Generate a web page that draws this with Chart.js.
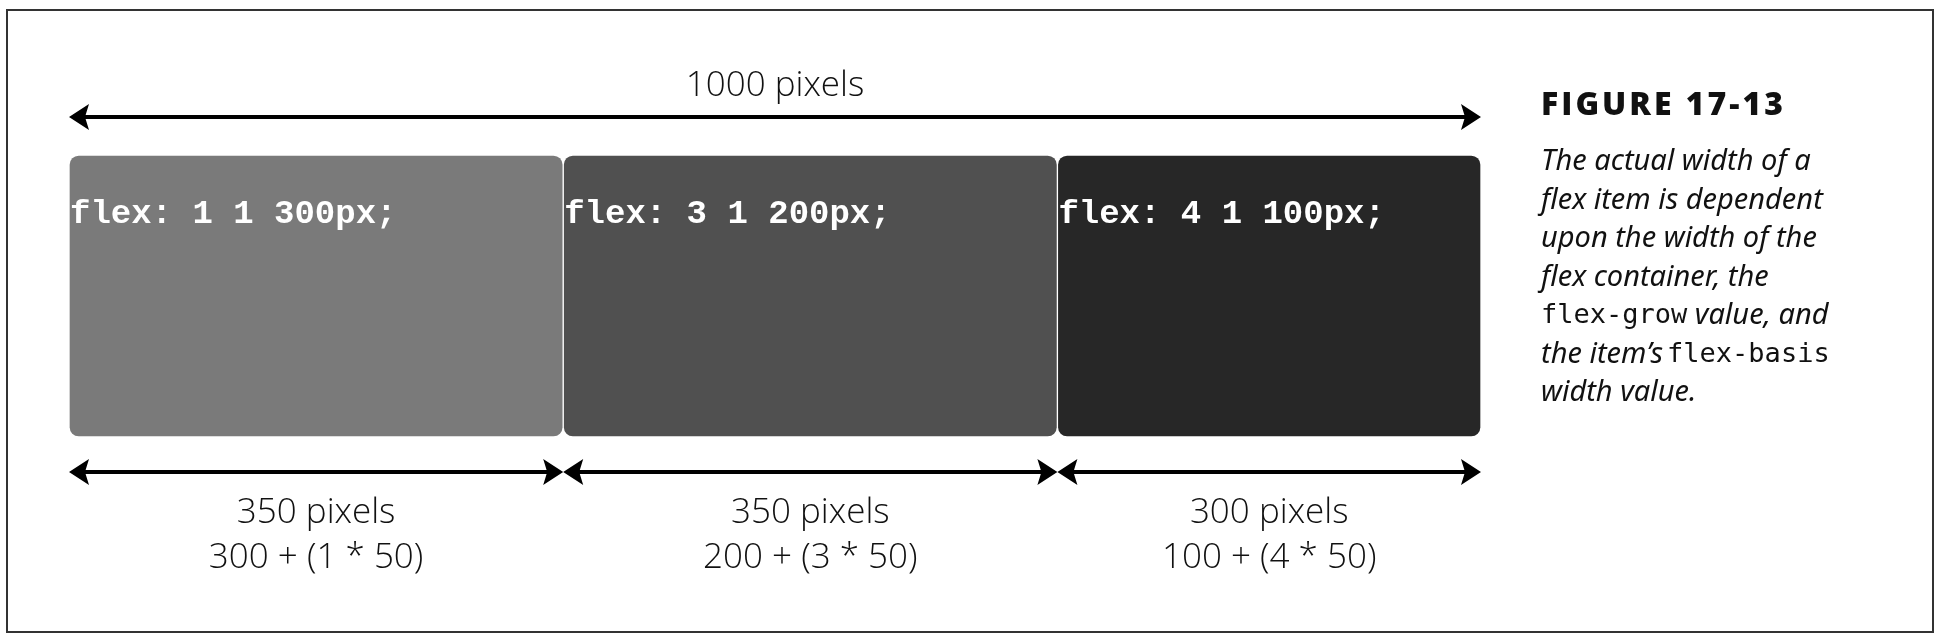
<!DOCTYPE html>
<html>
<head>
<meta charset="utf-8">
<script src="https://cdn.jsdelivr.net/npm/chart.js@4"></script>
<style>
  html, body { margin: 0; padding: 0; background: #fff; }
  #wrap { width: 1940px; height: 642px; position: relative; }
</style>
</head>
<body>
<div id="wrap"><canvas id="flexchart"></canvas></div>
<script>
// chart data
const items = ['flex: 1 1 300px;', 'flex: 3 1 200px;', 'flex: 4 1 100px;'];
const widths = [350, 350, 300];
const sizeLabels = ['350 pixels', '350 pixels', '300 pixels'];
const formulaLabels = ['300 + (1 * 50)', '200 + (3 * 50)', '100 + (4 * 50)'];
const boxColors = ['#7a7a7a', '#505050', '#272727'];
const totalLabel = '1000 pixels';
const figTitle = 'FIGURE 17-13';
// caption lines: [text, mono?] segments
const caption = [
  [['The actual width of a', false]],
  [['flex item is dependent', false]],
  [['upon the width of the', false]],
  [['flex container, the', false]],
  [['flex-grow', true], [' value, and', false]],
  [['the item\u2019s', false], ['flex-basis', true]],
  [['width value.', false]]
];

// start/end of each item along the container
const starts = widths.map((w, i) => widths.slice(0, i).reduce((a, b) => a + b, 0));

const ctx = document.getElementById('flexchart').getContext('2d');

function arrow(c, x1, x2, y) {
  c.save();
  c.strokeStyle = '#000';
  c.fillStyle = '#000';
  c.lineWidth = 4;
  c.beginPath();
  c.moveTo(x1 + 10, y);
  c.lineTo(x2 - 10, y);
  c.stroke();
  c.beginPath();
  c.moveTo(x1, y); c.lineTo(x1 + 20, y - 13); c.lineTo(x1 + 16, y); c.lineTo(x1 + 20, y + 13); c.closePath();
  c.fill();
  c.beginPath();
  c.moveTo(x2, y); c.lineTo(x2 - 20, y - 13); c.lineTo(x2 - 16, y); c.lineTo(x2 - 20, y + 13); c.closePath();
  c.fill();
  c.restore();
}

const annotate = {
  id: 'annotate',
  afterDraw(chart) {
    const c = chart.ctx;
    const xs = chart.scales.x;
    const area = chart.chartArea;
    c.save();
    // frame
    c.strokeStyle = '#333';
    c.lineWidth = 2;
    c.strokeRect(7, 10, 1926, 622);

    // total arrow
    const total = widths.reduce((a, b) => a + b, 0);
    const x0 = xs.getPixelForValue(0), xT = xs.getPixelForValue(total);
    arrow(c, x0, xT, 117);
    c.fillStyle = '#111';
    c.textAlign = 'center';
    c.textBaseline = 'middle';
    c.font = '300 35px "Open Sans"';
    c.fillText(totalLabel, (x0 + xT) / 2, 86);

    // per item
    widths.forEach((w, i) => {
      const a = xs.getPixelForValue(starts[i]), b = xs.getPixelForValue(starts[i] + w);
      arrow(c, a, b, 472);
      c.fillStyle = '#fff';
      c.textAlign = 'left';
      c.font = 'bold 34px "Liberation Mono"';
      c.fillText(items[i], a + 1, area.top + 59);
      c.fillStyle = '#111';
      c.textAlign = 'center';
      c.font = '300 35px "Open Sans"';
      c.fillText(sizeLabels[i], (a + b) / 2, 513);
      c.fillText(formulaLabels[i], (a + b) / 2, 558);
    });

    // caption
    c.textAlign = 'left';
    c.fillStyle = '#111';
    c.font = '800 32px "Open Sans"';
    c.letterSpacing = '3px';
    c.fillText(figTitle, 1541, 106);
    c.letterSpacing = '0px';
    caption.forEach((line, i) => {
      let x = 1541;
      const y = 162 + i * 38.5;
      line.forEach(([t, mono]) => {
        c.font = mono ? '27px "DejaVu Sans Mono"' : 'italic 29px "Liberation Sans Narrow", "Noto Sans"';
        c.fillText(t, x, y);
        x += c.measureText(t).width + (mono ? 0 : 4);
      });
    });
    c.restore();
  }
};

new Chart(ctx, {
  type: 'bar',
  data: {
    labels: ['container'],
    datasets: widths.map((w, i) => ({
      label: items[i],
      data: [[starts[i], starts[i] + w]],
      backgroundColor: boxColors[i],
      borderColor: '#ffffff',
      borderWidth: 1,
      borderRadius: 10,
      borderSkipped: false,
      grouped: false
    }))
  },
  options: {
    indexAxis: 'y',
    responsive: true,
    maintainAspectRatio: false,
    animation: false,
    layout: { padding: { left: 69, right: 459, top: 155, bottom: 205 } },
    categoryPercentage: 1,
    barPercentage: 1,
    scales: {
      x: { min: 0, max: 1000, display: false },
      y: { display: false }
    },
    plugins: { legend: { display: false }, tooltip: { enabled: false } }
  },
  plugins: [annotate]
});
</script>
</body>
</html>
